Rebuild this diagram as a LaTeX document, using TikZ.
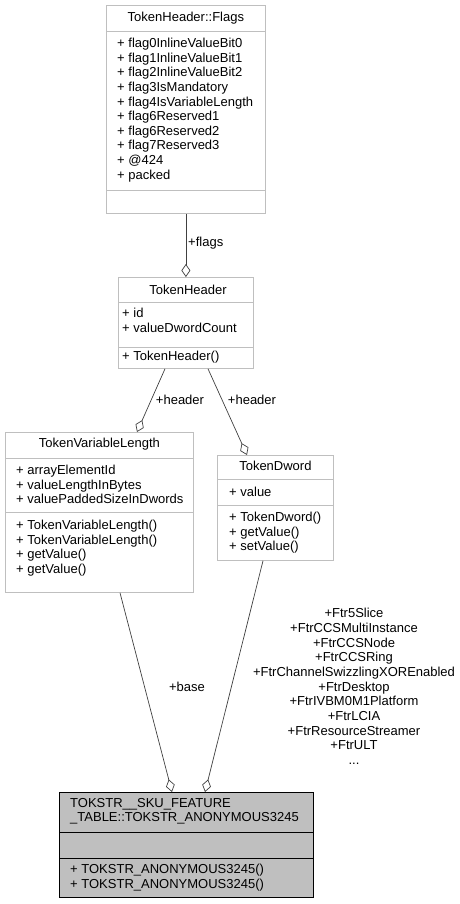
\documentclass[tikz,border=0pt]{standalone}
\usepackage{fontspec}
\setmainfont{Liberation Sans}
\usetikzlibrary{arrows.meta}
\newcommand{\umlfont}{\fontsize{13}{14.6}\selectfont}

\begin{document}
\begin{tikzpicture}[x=1pt, y=-1pt,
    classbox/.style={rectangle, draw=black!25, fill=white, line width=0.8pt,
                  anchor=north west, inner sep=0pt},
    mainbox/.style={classbox, draw=black, fill=black!25},
    sep/.style={draw=black!25, line width=0.8pt},
    mainsep/.style={draw=black, line width=0.8pt},
    title/.style={font=\umlfont, inner sep=0pt, anchor=center},
    members/.style={font=\umlfont, inner sep=0pt, anchor=north west,
                  align=left},
    agg/.style={draw=black!75, line width=0.7pt,
                  -{Diamond[fill=white, length=13pt, width=9pt]}},
    role/.style={font=\umlfont, inner sep=0pt, align=center}
]
    \useasboundingbox (0,0) rectangle (459,904);

    % TokenHeader::Flags
    \node[classbox, minimum width=159pt, minimum height=208pt] (flags) at (106,5) {};
    \draw[sep] (flags.north west |- 0,31) -- (flags.north east |- 0,31);
    \draw[sep] (flags.north west |- 0,190) -- (flags.north east |- 0,190);
    \node[title] (flagsname) at (flags.north |- 0,18) {TokenHeader::Flags};
    \node[members] (flagsattr) at (117,38)
        {+ flag0InlineValueBit0\\+ flag1InlineValueBit1\\+ flag2InlineValueBit2\\
         + flag3IsMandatory\\+ flag4IsVariableLength\\+ flag6Reserved1\\
         + flag6Reserved2\\+ flag7Reserved3\\+ @424\\+ packed};

    % TokenHeader
    \node[classbox, minimum width=135pt, minimum height=91pt] (header) at (118,277) {};
    \draw[sep] (header.north west |- 0,302) -- (header.north east |- 0,302);
    \draw[sep] (header.north west |- 0,347) -- (header.north east |- 0,347);
    \node[title] (headername) at (188,290) {TokenHeader};
    \node[members] (headerattr) at (122,308) {+ id\\+ valueDwordCount};
    \node[members] (headerops) at (122,351) {+ TokenHeader()};

    % TokenVariableLength
    \node[classbox, minimum width=188pt, minimum height=160pt] (tvl) at (5,432) {};
    \draw[sep] (tvl.north west |- 0,458) -- (tvl.north east |- 0,458);
    \draw[sep] (tvl.north west |- 0,512) -- (tvl.north east |- 0,512);
    \node[title] (tvlname) at (tvl.north |- 0,444) {TokenVariableLength};
    \node[members] (tvlattr) at (16,465)
        {+ arrayElementId\\+ valueLengthInBytes\\+ valuePaddedSizeInDwords};
    \node[members] (tvlops) at (16,520)
        {+ TokenVariableLength()\\+ TokenVariableLength()\\+ getValue()\\+ getValue()};

    % TokenDword
    \node[classbox, minimum width=116pt, minimum height=105pt] (dword) at (217,455) {};
    \draw[sep] (dword.north west |- 0,479) -- (dword.north east |- 0,479);
    \draw[sep] (dword.north west |- 0,505) -- (dword.north east |- 0,505);
    \node[title] (dwordname) at (dword.north |- 0,466) {TokenDword};
    \node[members] (dwordattr) at (229,487) {+ value};
    \node[members] (dwordops) at (229,512)
        {+ TokenDword()\\+ getValue()\\+ setValue()};

    % TOKSTR__SKU_FEATURE_TABLE::TOKSTR_ANONYMOUS3245
    \node[mainbox, minimum width=254pt, minimum height=105pt] (main) at (59,792) {};
    \draw[mainsep] (main.north west |- 0,832) -- (main.north east |- 0,832);
    \draw[mainsep] (main.north west |- 0,858) -- (main.north east |- 0,858);
    \node[members] (mainname) at (70,798)
        {TOKSTR\_\_SKU\_FEATURE\\\_TABLE::TOKSTR\_ANONYMOUS3245};
    \node[members] (mainops) at (70,864)
        {+ TOKSTR\_ANONYMOUS3245()\\+ TOKSTR\_ANONYMOUS3245()};

    % Flags naar TokenHeader
    \draw[agg] (flags.south) -- (header.north);
    \node[role, anchor=west] (flagsrole) at (188,243) {+flags};

    % TokenHeader naar TokenVariableLength en TokenDword
    \draw[agg] ([xshift=47pt]header.south west) -- ([xshift=132pt]tvl.north west);
    \node[role] (headerrole1) at (180,400) {+header};
    \draw[agg] ([xshift=90pt]header.south west) -- ([xshift=30pt]dword.north west);
    \node[role] (headerrole2) at (252,400) {+header};

    % TokenVariableLength naar main
    \draw[agg] ([xshift=115pt]tvl.south west) -- ([xshift=113pt]main.north west);
    \node[role] (baserole) at (187,687) {+base};

    % TokenDword naar main
    \draw[agg] ([xshift=46pt]dword.south west) -- ([xshift=146pt]main.north west);
    \node[role, anchor=north, font=\fontsize{13}{14.7}\selectfont] (ftrrole) at (354,608)
        {+Ftr5Slice\\+FtrCCSMultiInstance\\+FtrCCSNode\\+FtrCCSRing\\
         +FtrChannelSwizzlingXOREnabled\\+FtrDesktop\\+FtrIVBM0M1Platform\\
         +FtrLCIA\\+FtrResourceStreamer\\+FtrULT\\...};

\end{tikzpicture}
\end{document}
